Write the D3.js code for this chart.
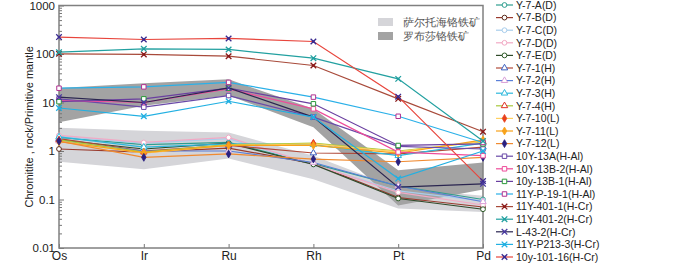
<!DOCTYPE html>
<html>
<head>
<meta charset="utf-8">
<script src="https://cdn.jsdelivr.net/npm/d3@7"></script>
<style>
body { margin: 0; background: #fff; }
text { font-family: "Liberation Sans", Arial, sans-serif; }
</style>
</head>
<body>
<div id="chart"></div>
<script>
// data
var elements = ["Os", "Ir", "Ru", "Rh", "Pt", "Pd"];
var yTicks = [0.01, 0.1, 1, 10, 100, 1000];
var yTickLabels = ["0.01", "0.1", "1", "10", "100", "1000"];

var bandNames = ["萨尔托海铬铁矿", "罗布莎铬铁矿"];
var sartohaiUpper = [3.0, 2.6, 2.4, 0.8, 0.17, 0.12];
var sartohaiLower = [0.6, 0.42, 0.7, 0.26, 0.065, 0.055];
var luobusaUpper = [20, 25, 30, 7.4, 0.4, 0.58];
var luobusaLower = [3.9, 8.6, 14, 3.1, 0.075, 0.16];

var seriesNames = ["Y-7-A(D)", "Y-7-B(D)", "Y-7-C(D)", "Y-7-D(D)", "Y-7-E(D)",
  "Y-7-1(H)", "Y-7-2(H)", "Y-7-3(H)", "Y-7-4(H)",
  "Y-7-10(L)", "Y-7-11(L)", "Y-7-12(L)",
  "10Y-13A(H-Al)", "10Y-13B-2(H-Al)", "10y-13B-1(H-Al)", "11Y-P-19-1(H-Al)",
  "11Y-401-1(H-Cr)", "11Y-401-2(H-Cr)", "L-43-2(H-Cr)", "11Y-P213-3(H-Cr)", "10y-101-16(H-Cr)"];
var seriesValues = [
  [1.9, 1.35, 1.5, 0.55, 0.19, 0.1],
  [1.1, 0.95, 1.15, 0.55, 0.11, 0.07],
  [2.0, 1.45, 1.8, 0.52, 0.15, 0.094],
  [2.1, 1.5, 1.9, 0.53, 0.14, 0.077],
  [1.7, 1.1, 1.45, 0.53, 0.105, 0.063],
  [1.8, 1.0, 1.3, 0.91, 0.87, 1.2],
  [1.6, 1.0, 1.0, 0.58, 0.19, 0.09],
  [1.95, 1.2, 1.4, 1.35, 0.8, 1.45],
  [1.7, 0.95, 1.35, 1.45, 1.0, 1.55],
  [1.6, 0.9, 1.3, 1.4, 0.96, 1.6],
  [1.55, 0.93, 1.3, 1.3, 0.9, 1.7],
  [1.6, 0.74, 0.87, 0.68, 0.6, 0.74],
  [11.9, 8.0, 13.9, 5.0, 1.25, 1.1],
  [11, 10, 19, 7.4, 0.95, 0.8],
  [10.4, 11.9, 19.7, 9.4, 1.3, 1.4],
  [19.7, 21, 26, 12.9, 5.2, 1.5],
  [101, 98, 90, 58, 11.9, 2.5],
  [109, 128, 124, 82, 30.7, 1.6],
  [12.9, 10, 20, 5.0, 0.18, 0.21],
  [7.7, 5.2, 10.6, 5.0, 0.27, 1.0],
  [223, 199, 209, 181, 13.2, 0.24]
];

// styles
var lineColors = ["#2e9e8f", "#9a3b2e", "#a8cdec", "#f2a9c4", "#2f4a2a",
  "#b04a3a", "#5a7fd8", "#2db8dc", "#a8c83c",
  "#ffd060", "#f7a21b", "#f08a30",
  "#6a4aa8", "#ee4c9a", "#6a3fa0", "#2ab0e8",
  "#a84a3a", "#22a0a0", "#2a2550", "#22b0e2", "#e8453c"];
var markerColors = ["#2e9e8f", "#5a2a1a", "#a8cdec", "#f2a9c4", "#2d5a27",
  "#3b5fc0", "#d9a0d8", "#2db8dc", "#e03020",
  "#e8401c", "#f7a21b", "#2a2080",
  "#6a4aa8", "#ee4c9a", "#2a9a3a", "#b03090",
  "#8b1a1a", "#22a0a0", "#4a3aa0", "#22b0e2", "#3a2a90"];
var markerShapes = ["circle", "circle", "circle", "circle", "circle",
  "triangle", "triangle", "triangle", "triangle",
  "diamond", "diamond", "diamond",
  "square", "square", "square", "square",
  "x", "x", "x", "x", "x"];

var margin = {top: 5.5, right: 217, bottom: 16, left: 59},
  width = 700 - margin.left - margin.right,
  height = 264 - margin.top - margin.bottom;

var svg = d3.select("#chart").append("svg")
  .attr("width", 700)
  .attr("height", 264)
  .append("g")
  .attr("transform", "translate(" + margin.left + "," + margin.top + ")");

var x = d3.scalePoint().domain(elements).range([0, width]);
var y = d3.scaleLog().domain([0.01, 1000]).range([height, 0]);

var area = d3.area()
  .x(function(d) { return x(d.el); })
  .y0(function(d) { return y(d.lo); })
  .y1(function(d) { return y(d.hi); });

function band(up, lo) {
  return elements.map(function(el, i) { return {el: el, hi: up[i], lo: lo[i]}; });
}

svg.append("path").datum(band(sartohaiUpper, sartohaiLower))
  .attr("d", area).attr("fill", "#d5d5d9");
svg.append("path").datum(band(luobusaUpper, luobusaLower))
  .attr("d", area).attr("fill", "#a3a3a3");

// axes
var yAxis = svg.append("g")
  .call(d3.axisLeft(y).tickValues(yTicks)
    .tickFormat(function(d, i) { return yTickLabels[i]; })
    .tickSizeInner(-5).tickSizeOuter(0).tickPadding(4));
var minors = [];
yTicks.slice(0, -1).forEach(function(t) {
  for (var k = 2; k < 10; k++) minors.push(t * k);
});
var yMinor = svg.append("g")
  .call(d3.axisLeft(y).tickValues(minors).tickFormat("")
    .tickSizeInner(-3).tickSizeOuter(0));
var xAxis = svg.append("g")
  .attr("transform", "translate(0," + height + ")")
  .call(d3.axisBottom(x).tickSizeInner(-4).tickSizeOuter(0).tickPadding(3));

[yAxis, yMinor, xAxis].forEach(function(g) {
  g.select(".domain").remove();
  g.selectAll("line").attr("stroke", "#777");
  g.selectAll("text").attr("font-size", 11.5).attr("fill", "#222");
});
xAxis.selectAll("text").attr("font-size", 12);

svg.append("rect")
  .attr("width", width).attr("height", height)
  .attr("fill", "none").attr("stroke", "#808080").attr("stroke-width", 1.5);

svg.append("text")
  .attr("transform", "translate(-26," + (height / 2) + ") rotate(-90)")
  .attr("text-anchor", "middle")
  .attr("font-size", 11)
  .attr("fill", "#222")
  .text("Chromitite , rock/Primitive mantle");

// markers
var symbolTypes = {circle: d3.symbolCircle, triangle: d3.symbolTriangle,
  diamond: d3.symbolDiamond, square: d3.symbolSquare, x: d3.symbolTimes};
var symbolSizes = {circle: 18, triangle: 18, diamond: 18, square: 20, x: 22};

function drawMarker(g, i) {
  var s = markerShapes[i];
  var p = g.append("path")
    .attr("d", d3.symbol().type(symbolTypes[s]).size(symbolSizes[s])());
  if (s === "diamond") {
    p.attr("fill", markerColors[i]).attr("stroke", markerColors[i]).attr("stroke-width", 0.8);
  } else {
    p.attr("fill", s === "x" ? "none" : "#fff")
      .attr("stroke", markerColors[i]).attr("stroke-width", s === "x" ? 1.3 : 1);
  }
  if (s === "x") {
    g.append("rect").attr("x", -1.2).attr("y", -1.2).attr("width", 2.4).attr("height", 2.4)
      .attr("fill", markerColors[i]);
  }
}

var line = d3.line()
  .x(function(d, i) { return x(elements[i]); })
  .y(function(d) { return y(d); });

seriesValues.forEach(function(vals, i) {
  var g = svg.append("g");
  g.append("path").datum(vals)
    .attr("d", line)
    .attr("fill", "none")
    .attr("stroke", lineColors[i])
    .attr("stroke-width", 1.2);
  vals.forEach(function(v, j) {
    var m = g.append("g")
      .attr("transform", "translate(" + x(elements[j]) + "," + y(v) + ")");
    drawMarker(m, i);
  });
});

// band legend inside the plot
var bandColors = ["#d5d5d9", "#a3a3a3"];
bandNames.forEach(function(name, i) {
  var gy = 12.5 + i * 14;
  svg.append("rect")
    .attr("x", 319).attr("y", gy).attr("width", 15).attr("height", 8)
    .attr("fill", bandColors[i]);
  svg.append("text")
    .attr("x", 344).attr("y", gy + 4)
    .attr("dy", "0.36em")
    .attr("font-size", 10.5)
    .attr("font-family", "'Noto Sans CJK SC', sans-serif")
    .attr("fill", "#555")
    .text(name);
});

// series legend on the right
var legend = d3.select("svg").append("g").attr("transform", "translate(496,5)");
seriesNames.forEach(function(name, i) {
  var g = legend.append("g").attr("transform", "translate(0," + (i * 12.6) + ")");
  g.append("line").attr("x1", 0).attr("x2", 17).attr("y1", 0).attr("y2", 0)
    .attr("stroke", lineColors[i]).attr("stroke-width", 1.2);
  var m = g.append("g").attr("transform", "translate(8.5,0)");
  drawMarker(m, i);
  g.append("text").attr("x", 20).attr("dy", "0.36em")
    .attr("font-size", 10.5).attr("fill", "#222").text(name);
});
</script>
</body>
</html>
